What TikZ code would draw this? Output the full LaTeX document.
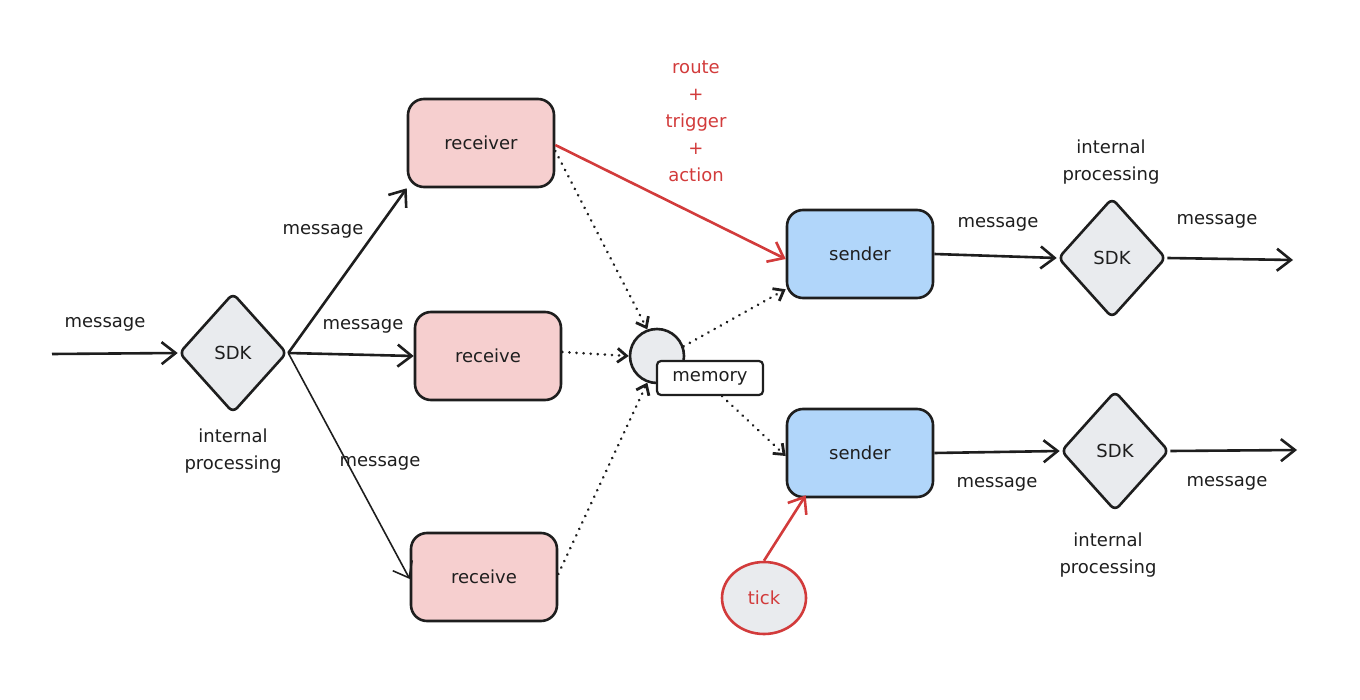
\documentclass[tikz,border=0pt]{standalone}
\usepackage{fontspec}
\setmainfont{DejaVu Sans}
\usetikzlibrary{positioning, calc, shapes.geometric, arrows.meta}

\definecolor{rcvfill}{HTML}{F6CFCF}
\definecolor{sndfill}{HTML}{B1D6FA}
\definecolor{sdkfill}{HTML}{E9EBEE}
\definecolor{redtxt}{HTML}{D23B3B}
\definecolor{ink}{HTML}{1E1E1E}

\begin{document}
\begin{tikzpicture}[x=1pt, y=-1pt, font=\fontsize{18}{21}\selectfont, text=ink,
  box/.style={draw=ink, line width=2.6pt, rounded corners=16pt, minimum width=146pt, minimum height=88pt},
  sdk/.style={diamond, draw=ink, line width=2.6pt, fill=sdkfill, rounded corners=6pt, minimum width=108pt, minimum height=120pt, inner sep=0pt},
  tip/.style={-{Straight Barb[length=14pt, width=22pt]}},
  flow/.style={tip, draw=ink, line width=2.6pt},
  dots/.style={-{Straight Barb[length=9pt, width=14pt]}, draw=ink, line width=2.8pt, line cap=round, dash pattern=on 0.1pt off 7pt},
  lbl/.style={inner sep=1pt}]
\useasboundingbox (0,0) rectangle (1360,700);

% left side
\coordinate (in) at (52,354);
\node [sdk] (sdkin) at (233,353) {SDK};
\node [lbl] at (105,324) {message};
\node [lbl, align=center] at (233,451) {internal\\[6pt]processing};

\node [box, fill=rcvfill] (rcvA) at (481,143) {receiver};
\node [box, fill=rcvfill] (rcvB) at (488,356) {receive};
\node [box, fill=rcvfill] (rcvC) at (484,577) {receive};

\draw [flow] (in) -- (sdkin.west);
\draw [flow] (sdkin.east) -- (rcvA.south west);
\draw [flow] (sdkin.east) -- (rcvB.west);
\draw [tip, draw=ink, line width=1.6pt] (sdkin.east) -- ([yshift=-2pt]rcvC.west);
\node [lbl] at (323,231) {message};
\node [lbl] at (363,326) {message};
\node [lbl] at (380,463) {message};

% memory
\node [circle, draw=ink, line width=2.6pt, fill=sdkfill, minimum size=54pt] (mem) at (657,356) {};
\node [draw=ink, line width=2.2pt, fill=white, rounded corners=4pt, minimum width=106pt, minimum height=34pt] (memlbl) at (710,378) {memory};

% senders
\node [box, fill=sndfill] (sndA) at (860,254) {sender};
\node [box, fill=sndfill] (sndB) at (860,453) {sender};

\draw [dots] ([yshift=-8pt]rcvA.east) -- (mem.110);
\draw [dots] ([yshift=4pt]rcvB.east) -- (mem.west);
\draw [dots] ([yshift=3pt]rcvC.east) -- (mem.250);
\draw [dots] (mem.20) -- ([yshift=10pt]sndA.south west);
\draw [dots] ([xshift=12pt]memlbl.south) -- ([yshift=-3pt]sndB.west);

% red path
\draw [tip, draw=redtxt, line width=2.6pt] ([yshift=-2pt]rcvA.east) -- ([yshift=-5pt]sndA.west);
\node [text=redtxt, align=center] at (696,121) {route\\[6pt]+\\[6pt]trigger\\[6pt]+\\[6pt]action};

\node [ellipse, draw=redtxt, line width=2.6pt, fill=sdkfill, text=redtxt, minimum width=84pt, minimum height=72pt] (tick) at (764,598) {tick};
\draw [tip, draw=redtxt, line width=2.6pt] (tick.north) -- ([xshift=20pt, yshift=3pt]sndB.south west);

% right side
\node [sdk] (sdkA) at (1112,258) {SDK};
\node [sdk] (sdkB) at (1115,451) {SDK};
\coordinate (outA) at (1293,260);
\coordinate (outB) at (1297,450);

\draw [flow] (sndA.east) -- (sdkA.west);
\draw [flow] (sdkA.east) -- (outA);
\draw [flow] (sndB.east) -- (sdkB.west);
\draw [flow] (sdkB.east) -- (outB);

\node [lbl] at (998,224) {message};
\node [lbl] at (1217,221) {message};
\node [lbl] at (997,484) {message};
\node [lbl] at (1227,483) {message};
\node [lbl, align=center] at (1111,162) {internal\\[6pt]processing};
\node [lbl, align=center] at (1108,555) {internal\\[6pt]processing};
\end{tikzpicture}
\end{document}
